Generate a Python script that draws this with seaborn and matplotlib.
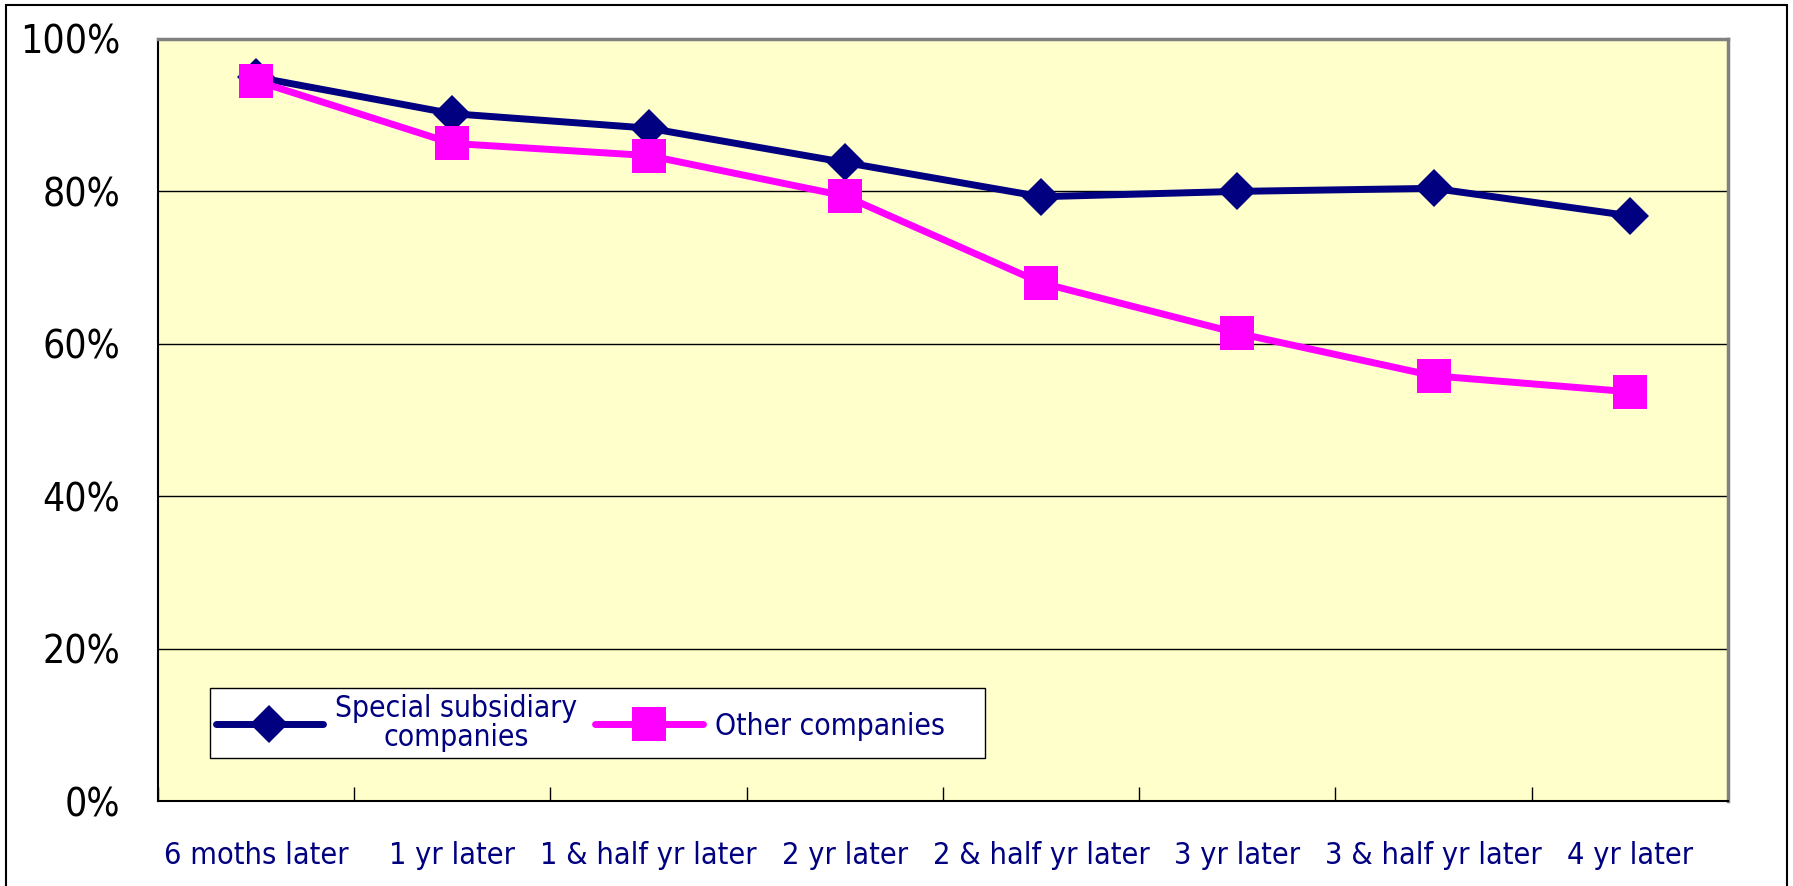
import matplotlib
matplotlib.use('Agg')
import matplotlib.pyplot as plt
import seaborn as sns
import pandas as pd
from matplotlib.patches import Rectangle

# values (percent)
periods = ['6 moths later', '1 yr later', '1 & half yr later', '2 yr later',
           '2 & half yr later', '3 yr later', '3 & half yr later', '4 yr later']
special = [95.0, 90.2, 88.3, 83.8, 79.3, 80.0, 80.4, 76.8]
other = [94.5, 86.3, 84.7, 79.4, 68.0, 61.4, 55.8, 53.7]
yticks = [0, 20, 40, 60, 80, 100]

sns.set_theme(style='white')
plt.rcParams['font.family'] = ['DejaVu Sans']
plt.rcParams['font.stretch'] = 'condensed'

fig = plt.figure(figsize=(17.93, 8.86), dpi=100)
ax = fig.add_axes([0.0881, 0.0959, 0.8756, 0.8601])
ax.set_facecolor('#FFFFCC')

df = pd.DataFrame({'period': periods, 'special': special, 'other': other})
sns.lineplot(data=df, x='period', y='special', ax=ax, color='#000080', lw=5,
             marker='D', markersize=19, markeredgewidth=0,
             label='Special subsidiary\ncompanies', sort=False)
sns.lineplot(data=df, x='period', y='other', ax=ax, color='#FF00FF', lw=5,
             marker='s', markersize=24, markeredgewidth=0,
             label='Other companies', sort=False)

ax.set_xlim(-0.5, len(periods) - 0.5)
ax.set_ylim(0, 100)
ax.set_xlabel('')
ax.set_ylabel('')

ax.set_yticks(yticks)
ax.set_yticklabels([f'{v}%' for v in yticks], fontsize=28)
ax.tick_params(axis='y', direction='in', length=9, width=1, pad=27, colors='black')
ax.yaxis.grid(True, color='black', lw=1)
ax.set_axisbelow(True)

ax.set_xticks(range(len(periods)))
ax.set_xticklabels(periods, fontsize=22, color='#000080')
ax.tick_params(axis='x', which='major', length=0, pad=29)
ax.set_xticks([i + 0.5 for i in range(-1, len(periods))], minor=True)
ax.tick_params(axis='x', which='minor', direction='in', length=10, width=1,
               color='black', bottom=True)

for s in ['left', 'bottom']:
    ax.spines[s].set_color('black')
    ax.spines[s].set_linewidth(1.5)
for s in ['top', 'right']:
    ax.spines[s].set_color('#808080')
    ax.spines[s].set_linewidth(2.5)

leg = ax.legend(loc='lower left', bbox_to_anchor=(0.033, 0.056), ncol=2,
                fontsize=21.5, frameon=True, fancybox=False, edgecolor='black',
                facecolor='white', framealpha=1, handlelength=3.6,
                borderaxespad=0, borderpad=0.2, columnspacing=0.6,
                handletextpad=0.4)
leg.get_frame().set_linewidth(1.0)
for t in leg.get_texts():
    t.set_color('#000080')
    t.set_multialignment('center')
    t.set_linespacing(1.0)
# the reference legend leaves extra room after the last entry
leg.get_texts()[1].set_text('Other companies    ')

# outer chart border
fig.patches.append(Rectangle((6 / 1793, -0.02), (1787 - 6) / 1793, 1.02 - 5 / 886,
                             transform=fig.transFigure, fill=False,
                             edgecolor='black', lw=1.5))

fig.savefig('out.png', dpi=100)
plt.close()
